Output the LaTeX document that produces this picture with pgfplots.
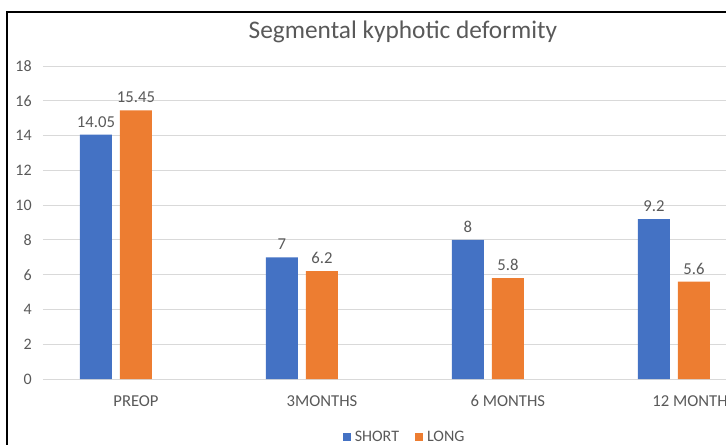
\documentclass[border=0pt]{standalone}
\usepackage{pgfplots}
\pgfplotsset{compat=1.18}
\usepackage{fontspec}
\setmainfont{Carlito}
\definecolor{cblue}{RGB}{68,114,196}
\definecolor{corange}{RGB}{237,125,49}
\definecolor{ctext}{RGB}{89,89,89}
\definecolor{cgrid}{RGB}{217,217,217}
\begin{document}
\begin{tikzpicture}
\begin{axis}[
  at={(32.25pt,48.75pt)}, anchor=south west,
  scale only axis,
  width=512.25pt, height=234.75pt,
  xmin=-0.3925, xmax=3.28,
  ymin=0, ymax=18,
  ytick={0,2,...,18},
  xtick={0.1075,1.1075,2.1075,3.1075},
  xticklabels={PREOP,3MONTHS,6 MONTHS,12 MONTHS},
  major tick length=0pt,
  axis line style={draw=none},
  ymajorgrids, grid style={cgrid, line width=0.75pt},
  ybar=6pt, bar width=24pt,
  /pgf/number format/assume math mode=true,
  ticklabel style={font=\fontsize{12}{14}\selectfont, text=ctext},
  yticklabel style={xshift=-5pt},
  xticklabel style={yshift=-9pt, font=\fontsize{12.5}{14}\selectfont},
  nodes near coords,
  nodes near coords style={font=\fontsize{12.5}{14}\selectfont, text=ctext, yshift=2pt},
  title={Segmental kyphotic deformity},
  title style={at={(0.527,1.083)}, anchor=center, yshift=0pt, font=\fontsize{19}{21}\selectfont, text=ctext},
  legend columns=2,
  legend style={at={(0.530,-0.185)}, anchor=center, draw=none, fill=none,
    font=\fontsize{12}{14}\selectfont, text=ctext,
    /tikz/every odd column/.append style={column sep=1pt},
    /tikz/every even column/.append style={column sep=10pt}},
  legend image code/.code={\fill[#1,draw=none] (0pt,-3pt) rectangle (6pt,3pt);},
]
\addplot[fill=cblue, draw=none] coordinates {(0,14.05) (1,7) (2,8) (3,9.2)};
\addplot[fill=corange, draw=none] coordinates {(0,15.45) (1,6.2) (2,5.8) (3,5.6)};
\legend{SHORT,LONG}
\end{axis}
\draw[line width=1.5pt] (5.25pt,-10pt) -- (5.25pt,324pt) -- (560pt,324pt);
\pgfresetboundingbox
\useasboundingbox (0,0) rectangle (544.5pt,333pt);
\end{tikzpicture}
\end{document}
